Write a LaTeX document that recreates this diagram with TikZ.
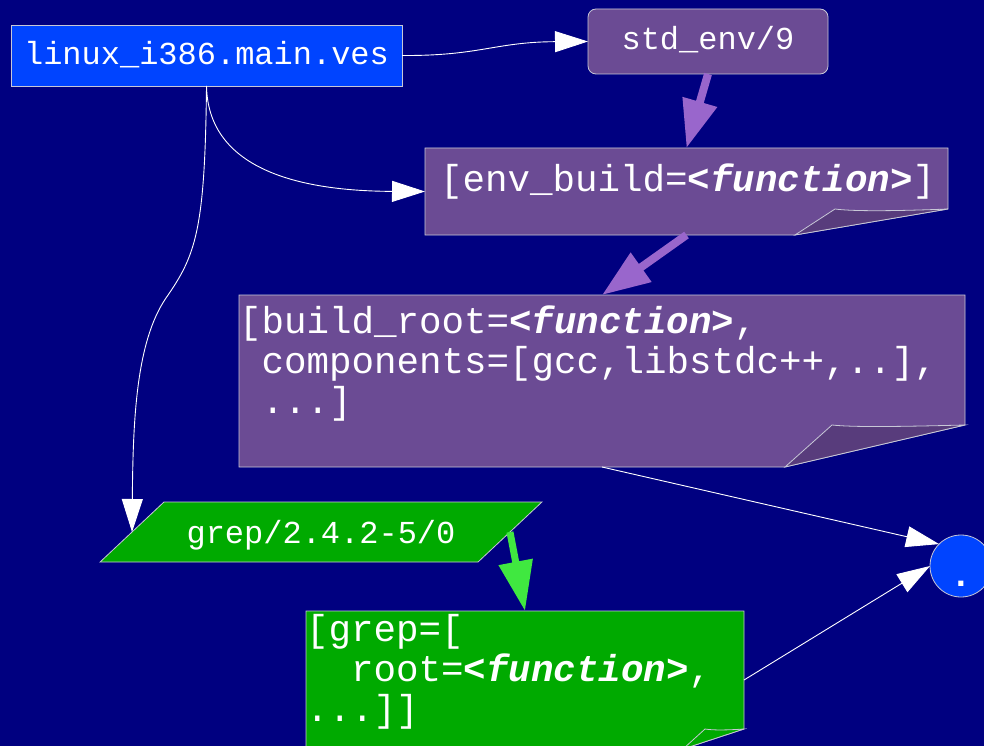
\documentclass[tikz,border=0pt]{standalone}
\usepackage{fontspec}
\newfontfamily\codefont{Liberation Mono}
\usetikzlibrary{arrows.meta,shapes.geometric,backgrounds}

\definecolor{navy}{RGB}{0,0,128}
\definecolor{vesblue}{RGB}{0,68,255}
\definecolor{notepurple}{RGB}{107,75,148}
\definecolor{notefold}{RGB}{88,60,124}
\definecolor{flowpurple}{RGB}{153,102,204}
\definecolor{pkggreen}{RGB}{0,170,0}
\definecolor{flowgreen}{RGB}{64,232,64}
\definecolor{rimcol}{RGB}{200,200,215}

\newcommand{\funcmark}{{\bfseries\itshape <function>}}
\newcommand{\codeindent}{\hspace*{0.6em}}

\begin{document}
\begin{tikzpicture}[x=1pt,y=-1pt,
  every node/.style={inner sep=0pt, outer sep=0pt, text=white},
  smallcode/.style={font=\codefont\fontsize{32}{40}\selectfont},
  bigcode/.style={font=\codefont\fontsize{37.5}{40}\selectfont},
  rim/.style={draw=rimcol, line width=0.8pt},
  flow/.style={draw=white, line width=0.9pt, -{Triangle[length=33pt,width=21pt]}},
  purpleflow/.style={draw=flowpurple, line width=8pt, -{Triangle[length=48pt,width=34pt]}},
  greenflow/.style={draw=flowgreen, line width=7pt, -{Triangle[length=50pt,width=33pt]}}]

\useasboundingbox (0,0) rectangle (984,746);

% nodes
\node[rim, fill=vesblue, smallcode, anchor=north west, minimum width=391pt,
      minimum height=61pt, text height=25pt, text depth=6pt] (ves) at (11,25)
      {linux\_i386.main.ves};

\node[rim, fill=notepurple, rounded corners=8pt, smallcode, anchor=north west,
      minimum width=240pt, minimum height=65pt, text height=23pt, text depth=6pt]
      (std) at (588,9) {std\_env/9};

% parallelogram: body = text + inner sep, slanted ends added outside it
\node[rim, fill=pkggreen, trapezium, trapezium left angle=43.2,
      trapezium right angle=136.8, inner xsep=22.6pt, inner ysep=14pt,
      smallcode, text height=27pt, text depth=5pt]
      (grep) at (321,532) {grep/2.4.2-5/0};

\node[bigcode, anchor=north west, minimum width=523pt, minimum height=87pt,
      text width=493pt, align=left, text height=43pt, text depth=44pt]
      (envb) at (425,148) {[env\_build=\funcmark]};

\node[bigcode, anchor=north west, minimum width=726pt, minimum height=172pt,
      text width=726pt, align=left, text height=38pt, text depth=134pt]
      (root) at (239,295)
      {[build\_root=\funcmark,\\ \codeindent components=[gcc,libstdc++,..],\\ \codeindent ...]};

\node[bigcode, anchor=north west, minimum width=438pt, minimum height=138pt,
      text width=438pt, align=left, text height=30pt, text depth=108pt]
      (grepval) at (306,611)
      {[grep=[\\ \codeindent\codeindent root=\funcmark,\\ ...]]};

\node[circle, rim, fill=vesblue, minimum size=62pt,
      font=\codefont\bfseries\fontsize{36}{40}\selectfont,
      text height=41pt, text depth=1pt] (sink) at (961,566) {.};

% background and note bodies with folded corners
\begin{pgfonlayer}{background}
  \fill[navy] (0,0) rectangle (984,746);

  \path[rim, fill=notepurple] (envb.north west) -- (envb.north east)
    -- ([yshift=26pt]envb.south east) -- ([xshift=-153pt]envb.south east)
    -- (envb.south west) -- cycle;
  \path[rim, fill=notefold] ([xshift=-153pt]envb.south east)
    -- ([xshift=-113pt,yshift=26pt]envb.south east)
    .. controls ([xshift=-95pt,yshift=23.5pt]envb.south east)
       and ([xshift=-50pt,yshift=24pt]envb.south east)
    .. ([yshift=26pt]envb.south east) -- cycle;

  \path[rim, fill=notepurple] (root.north west) -- (root.north east)
    -- ([yshift=42pt]root.south east) -- ([xshift=-180pt]root.south east)
    -- (root.south west) -- cycle;
  \path[rim, fill=notefold] ([xshift=-180pt]root.south east)
    -- ([xshift=-133pt,yshift=42pt]root.south east)
    .. controls ([xshift=-110pt,yshift=39.5pt]root.south east)
       and ([xshift=-60pt,yshift=40.5pt]root.south east)
    .. ([yshift=42pt]root.south east) -- cycle;

  \path[rim, fill=pkggreen] (grepval.north west) -- (grepval.north east)
    -- ([yshift=20pt]grepval.south east) -- ([xshift=-61pt]grepval.south east)
    -- (grepval.south west) -- cycle;
  \path[rim, fill=pkggreen] ([xshift=-61pt]grepval.south east)
    -- ([xshift=-39pt,yshift=20pt]grepval.south east)
    .. controls ([xshift=-30pt,yshift=18.5pt]grepval.south east)
       and ([xshift=-15pt,yshift=19pt]grepval.south east)
    .. ([yshift=20pt]grepval.south east) -- cycle;
\end{pgfonlayer}

% connectors
\draw[flow] (ves.east) .. controls (480,56) and (495,42) .. (std.west);
\draw[flow] (ves.south) .. controls (208,165) and (290,191) .. (envb.west);
\draw[flow] (ves.south) .. controls (205,230) and (196,255) .. (166,298)
  .. controls (136,342) and (133,420) .. (grep.west);
\draw[purpleflow] (std.south) -- (envb.north);
\draw[purpleflow] (envb.south) -- (root.north);
\draw[flow] (root.south) -- (sink.135);
\draw[greenflow] (grep.east) -- (grepval.north);
\draw[flow] (grepval.east) -- (sink.west);
\end{tikzpicture}
\end{document}
